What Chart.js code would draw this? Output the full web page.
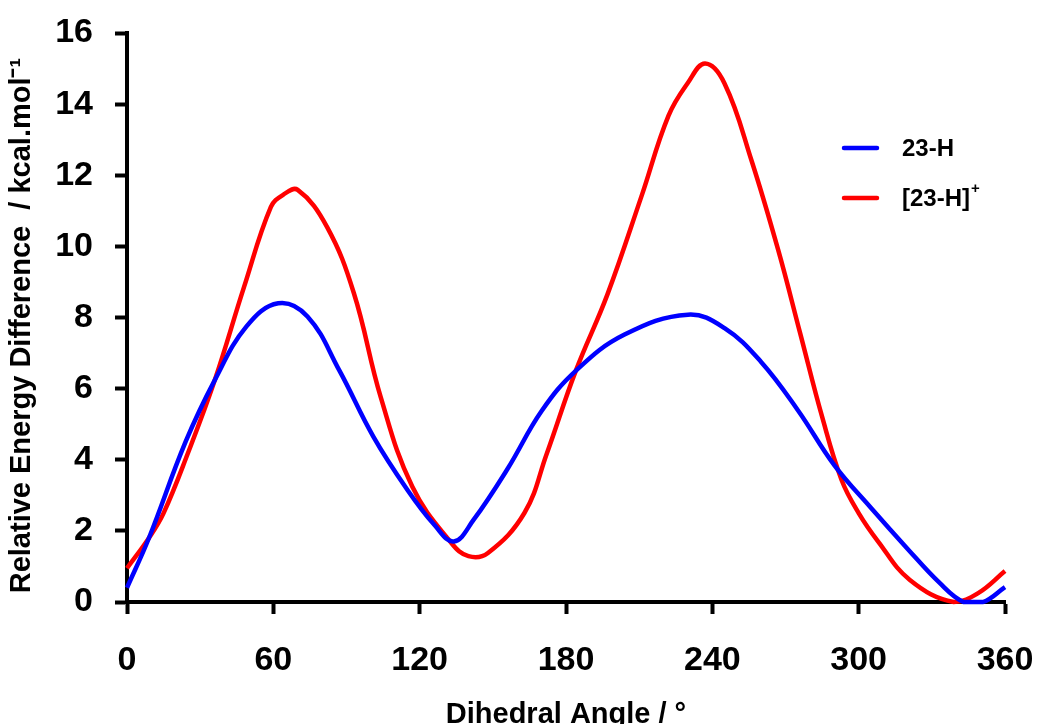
<!DOCTYPE html>
<html>
<head>
<meta charset="utf-8">
<script src="https://cdn.jsdelivr.net/npm/chart.js@4"></script>
<style>
  html, body { margin: 0; padding: 0; background: #fff; }
  #wrap { width: 1041px; height: 724px; }
</style>
</head>
<body>
<div id="wrap"><canvas id="energyChart" width="1041" height="724"></canvas></div>
<script>
// torsion scan data
const seriesLabels = ['23-H', '[23-H]+'];
const seriesColors = ['#0000ff', '#ff0000'];

const angles23H = [0, 9, 24, 36, 49, 62, 74, 87, 101, 115, 126, 134, 142, 156, 170, 184, 204, 230, 245, 260, 275, 290, 305, 320, 333, 343, 351, 360];
const energy23H = [0.4, 1.8, 4.5, 6.24, 7.75, 8.4, 8.03, 6.52, 4.65, 3.15, 2.17, 1.7, 2.3, 3.74, 5.37, 6.5, 7.52, 8.08, 7.7, 6.75, 5.4, 3.85, 2.65, 1.5, 0.55, 0.0, 0.0, 0.42];

const angles23HPlus = [0, 9, 15, 25, 36, 48, 59, 64, 70, 82, 93, 104, 117, 133, 140, 148, 163, 172, 184, 197, 211, 222, 230, 237, 245, 256, 267, 276, 285, 293, 300, 308, 321, 339, 349, 360];
const energy23HPlus = [0.95, 1.8, 2.5, 4.19, 6.24, 8.86, 11.11, 11.45, 11.59, 10.55, 8.69, 5.77, 3.24, 1.66, 1.29, 1.38, 2.51, 4.15, 6.5, 8.65, 11.42, 13.67, 14.6, 15.14, 14.58, 12.43, 9.9, 7.56, 5.21, 3.43, 2.5, 1.7, 0.62, 0.0, 0.25, 0.87];

const xTicks = [0, 60, 120, 180, 240, 300, 360];
const yTicks = [0, 2, 4, 6, 8, 10, 12, 14, 16];

const FONT = '"Liberation Sans", Arial, sans-serif';

function toPoints(xs, ys) {
    return xs.map((x, i) => ({ x: x, y: ys[i] }));
}

// legend drawn inside the plot, right-hand side
const innerLegend = {
    id: 'innerLegend',
    afterDraw(chart) {
        const ctx = chart.ctx;
        ctx.save();
        chart.data.datasets.forEach((ds, i) => {
            const y = 148 + i * 50;
            ctx.strokeStyle = ds.borderColor;
            ctx.lineWidth = 4.5;
            ctx.lineCap = 'round';
            ctx.beginPath();
            ctx.moveTo(844, y);
            ctx.lineTo(877, y);
            ctx.stroke();

            let text = ds.label;
            let sup = '';
            if (text.endsWith('+')) { sup = '+'; text = text.slice(0, -1); }
            ctx.fillStyle = '#000';
            ctx.font = 'bold 24px ' + FONT;
            ctx.textBaseline = 'middle';
            ctx.textAlign = 'left';
            ctx.fillText(text, 902, y + 1);
            if (sup) {
                const w = ctx.measureText(text).width;
                ctx.font = 'bold 15px ' + FONT;
                ctx.fillText(sup, 902 + w + 1, y - 9);
            }
        });
        ctx.restore();
    }
};

function renderChart() {
    const ctx = document.getElementById('energyChart').getContext('2d');
    new Chart(ctx, {
        type: 'line',
        data: {
            datasets: [{
                label: seriesLabels[0],
                data: toPoints(angles23H, energy23H),
                borderColor: seriesColors[0],
                borderWidth: 4.5,
                pointRadius: 0,
                tension: 0.4,
                clip: false
            }, {
                label: seriesLabels[1],
                data: toPoints(angles23HPlus, energy23HPlus),
                borderColor: seriesColors[1],
                borderWidth: 4.5,
                pointRadius: 0,
                tension: 0.4,
                clip: false
            }]
        },
        options: {
            responsive: false,
            animation: false,
            layout: { padding: { left: 0, top: 33, right: 36, bottom: 0 } },
            plugins: {
                legend: { display: false },
                tooltip: { enabled: false }
            },
            scales: {
                x: {
                    type: 'linear',
                    min: 0,
                    max: 360,
                    afterBuildTicks: (scale) => { scale.ticks = xTicks.map(v => ({ value: v })); },
                    afterFit: (scale) => {
                        scale.height = 122;
                        scale.paddingLeft = 0;
                        scale.paddingRight = 0;
                    },
                    grid: { drawOnChartArea: false, tickLength: 12, tickWidth: 4, tickColor: '#000' },
                    border: { color: '#000', width: 4 },
                    ticks: { color: '#000', padding: 26, maxRotation: 0, font: { family: FONT, size: 34, weight: 'bold' } },
                    title: {
                        display: true,
                        text: 'Dihedral Angle / °',
                        color: '#000',
                        font: { family: FONT, size: 29, weight: 'bold' },
                        padding: { top: 0, bottom: -8 }
                    }
                },
                y: {
                    min: 0,
                    max: 16,
                    afterBuildTicks: (scale) => { scale.ticks = yTicks.map(v => ({ value: v })); },
                    afterFit: (scale) => {
                        scale.width = 127;
                        scale.paddingTop = 0;
                        scale.paddingBottom = 0;
                    },
                    grid: { drawOnChartArea: false, tickLength: 12, tickWidth: 4, tickColor: '#000' },
                    border: { color: '#000', width: 4 },
                    ticks: { color: '#000', padding: 22, font: { family: FONT, size: 34, weight: 'bold' } },
                    title: {
                        display: true,
                        text: 'Relative Energy Difference  / kcal.mol\u207B\u00B9  ',
                        color: '#000',
                        font: { family: FONT, size: 29, weight: 'bold' },
                        padding: { top: 5, bottom: 0 }
                    }
                }
            }
        },
        plugins: [innerLegend]
    });
}

document.addEventListener('DOMContentLoaded', renderChart);
</script>
</body>
</html>
